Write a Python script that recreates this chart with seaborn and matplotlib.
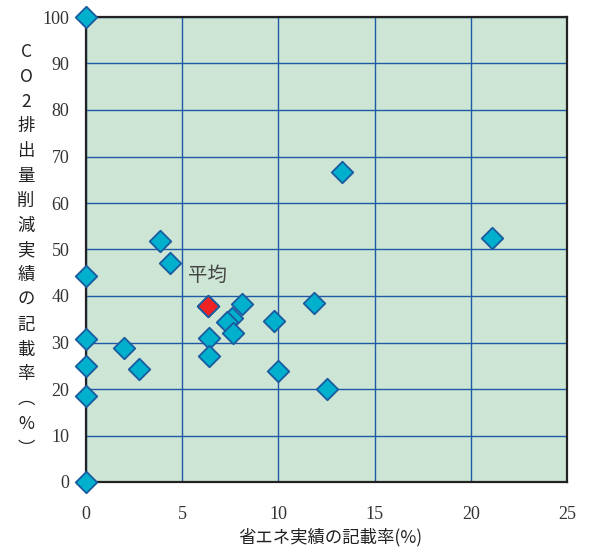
import matplotlib
matplotlib.use('Agg')
import matplotlib.pyplot as plt
import seaborn as sns
import pandas as pd

# データ
shoene_rate = [0, 0, 0, 0, 0, 0, 3.85, 4.37, 1.98, 2.75, 6.34, 8.1, 7.57, 7.31,
               7.66, 6.39, 6.39, 9.77, 11.87, 10.0, 12.54, 13.29, 21.12]
co2_rate = [100, 44.3, 30.8, 25.0, 18.5, 0, 51.8, 47.1, 28.8, 24.3, 37.9, 38.2, 35.3, 34.5,
            32.0, 31.0, 27.1, 34.6, 38.6, 23.9, 20.0, 66.7, 52.4]
avg_x = [6.34]
avg_y = [37.9]
avg_label = '平均'

x_ticks = [0, 5, 10, 15, 20, 25]
y_ticks = [0, 10, 20, 30, 40, 50, 60, 70, 80, 90, 100]
x_title = '省エネ実績の記載率(%)'
y_title = 'CO2排出量削減実績の記載率︵%︶'

df = pd.DataFrame({'x': shoene_rate, 'y': co2_rate})
df_avg = pd.DataFrame({'x': avg_x, 'y': avg_y})

sns.set_style('white')
plt.rcParams['font.family'] = ['Noto Sans CJK JP', 'DejaVu Sans']

fig = plt.figure(figsize=(5.89, 5.5), dpi=100)
ax = fig.add_axes([86 / 589, 68 / 550, 481 / 589, 465 / 550])
ax.set_facecolor('#cce5d4')

sns.scatterplot(data=df, x='x', y='y', marker='D', s=120, color='#00b0cc',
                edgecolor='#1a5a9e', linewidth=1.3, clip_on=False, zorder=5, ax=ax)
sns.scatterplot(data=df_avg, x='x', y='y', marker='D', s=120, color='#ee2222',
                edgecolor='#1a5a9e', linewidth=1.3, clip_on=False, zorder=6, ax=ax)

ax.text(5.3, 44.5, avg_label, fontsize=14, color='#444444', va='center', ha='left',
        family=['Noto Sans CJK JP'])

ax.set_xlim(0, 25)
ax.set_ylim(0, 100)
ax.set_xticks(x_ticks)
ax.set_yticks(y_ticks)
ax.grid(True, color='#1f5aa6', linewidth=1.0)
ax.set_axisbelow(True)
ax.tick_params(length=0)
ax.tick_params(axis='x', pad=17)
ax.tick_params(axis='y', pad=12)
for lab in ax.get_xticklabels() + ax.get_yticklabels():
    lab.set_family('Liberation Serif')
    lab.set_fontsize(13)
    lab.set_color('#333333')
for sp in ax.spines.values():
    sp.set_visible(True)
    sp.set_color('#222222')
    sp.set_linewidth(1.6)

ax.set_xlabel('')
ax.set_ylabel('')
fig.text(330 / 589, 1 - 537 / 550, x_title, ha='center', va='center', fontsize=12.5,
         color='#222222')

# 縦書きの軸タイトル
chars = list(y_title)
top_px, step_px = 52, 24.8
for i, ch in enumerate(chars):
    fig.text(26 / 589, 1 - (top_px + i * step_px) / 550, ch, ha='center', va='center',
             fontsize=12.5, color='#222222')

fig.savefig('out.png', dpi=100)
plt.close(fig)
